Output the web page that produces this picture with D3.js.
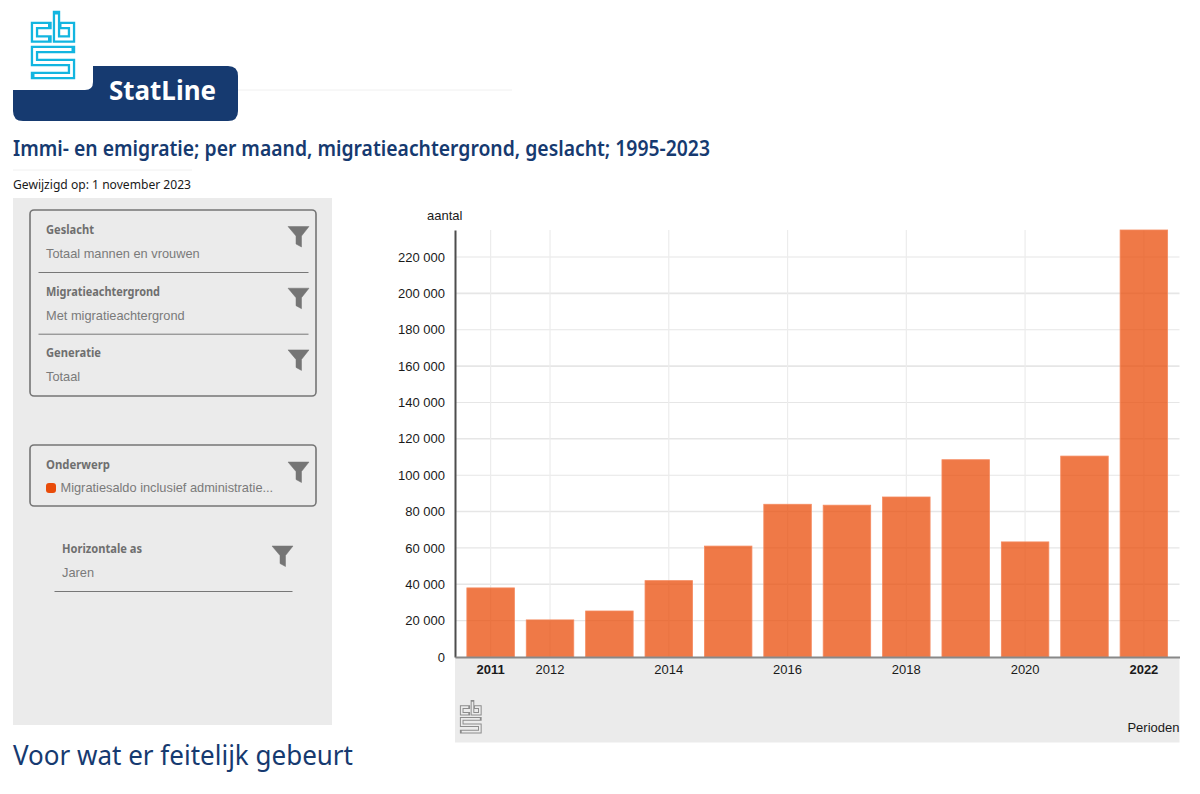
<!DOCTYPE html>
<html>
<head>
<meta charset="utf-8">
<title>StatLine</title>
<script src="https://cdn.jsdelivr.net/npm/d3@7"></script>
<style>
  html, body { margin: 0; padding: 0; background: #fff; }
  svg { display: block; }
  .akko { font-family: "Noto Sans", sans-serif; }
  .arial { font-family: "Liberation Sans", Arial, sans-serif; }
</style>
</head>
<body>
<div id="chart"></div>
<script>
// Chart values
const years = ['2011', '2012', '2013', '2014', '2015', '2016', '2017', '2018', '2019', '2020', '2021', '2022'];
const saldo = [38000, 20400, 25300, 42000, 61000, 84000, 83500, 88000, 108500, 63300, 110500, 235000];
const yTicks = [0, 20000, 40000, 60000, 80000, 100000, 120000, 140000, 160000, 180000, 200000, 220000];
const xLabels = ['2011', '2012', '2014', '2016', '2018', '2020', '2022'];
const boldLabels = ['2011', '2022'];

const filterGroups = [
  { title: 'Geslacht', value: 'Totaal mannen en vrouwen' },
  { title: 'Migratieachtergrond', value: 'Met migratieachtergrond' },
  { title: 'Generatie', value: 'Totaal' },
];

const navy = '#163a70';
const grey = '#757575';
const panel = '#ebebeb';

const svg = d3.select('#chart').append('svg').attr('width', 1200).attr('height', 794);

// Function to draw the maze style cbs logo
function drawLogo(parent, x, y, scale, outer, inner, widths) {
  const logo = parent.append('g').attr('transform', `translate(${x},${y}) scale(${scale})`);
  const paths = [
    'M48,25.5H34.5V39H48',
    'M56.5,14.5V39H71.5V25.5H61.5',
    'M71.5,49.5H34.5V62.5H71.5V75.5H34.5',
  ];
  paths.forEach((d) => {
    logo.append('path').attr('d', d).attr('fill', 'none').attr('stroke', outer)
      .attr('stroke-width', widths[0]).attr('stroke-linecap', 'square');
    logo.append('path').attr('d', d).attr('fill', 'none').attr('stroke', inner)
      .attr('stroke-width', widths[1]).attr('stroke-linecap', 'butt');
  });
}

// Function to draw the funnel icon of a filter
function drawFunnel(parent, x, y) {
  parent.append('path')
    .attr('transform', `translate(${x},${y})`)
    .attr('d', 'M0,0H21L13.5,9.5V20.5L8,17.5V9.5Z')
    .attr('fill', grey)
    .attr('stroke', grey)
    .attr('stroke-width', 0.5);
}

function drawHeader() {
  svg.append('line').attr('x1', 238).attr('x2', 512).attr('y1', 90).attr('y2', 90).attr('stroke', '#f0f0f0');
  drawLogo(svg, 0, 0, 1, '#12b5e0', '#fff', [7.4, 2.8]);

  svg.append('path')
    .attr('d', 'M13,90H85Q93,90 93,82V66H228Q238,66 238,76V111Q238,121 228,121H23Q13,121 13,111Z')
    .attr('fill', navy);
  svg.append('text').attr('class', 'akko').attr('x', 109).attr('y', 100)
    .attr('font-size', 26).attr('font-weight', 700).attr('fill', '#fff')
    .attr('textLength', 107).attr('lengthAdjust', 'spacingAndGlyphs').text('StatLine');

  svg.append('text').attr('class', 'akko').attr('x', 13).attr('y', 155.5)
    .attr('font-size', 21).attr('font-weight', 600).attr('fill', navy)
    .attr('textLength', 697).attr('lengthAdjust', 'spacingAndGlyphs')
    .text('Immi- en emigratie; per maand, migratieachtergrond, geslacht; 1995-2023');

  svg.append('line').attr('x1', 13).attr('x2', 192).attr('y1', 170).attr('y2', 170).attr('stroke', '#f0f0f0');
  svg.append('text').attr('class', 'akko').attr('x', 13).attr('y', 189)
    .attr('font-size', 12).attr('fill', '#1a1a1a')
    .attr('textLength', 178).attr('lengthAdjust', 'spacingAndGlyphs')
    .text('Gewijzigd op: 1 november 2023');

  svg.append('text').attr('class', 'akko').attr('x', 13).attr('y', 765)
    .attr('font-size', 27).attr('fill', navy)
    .attr('textLength', 340).attr('lengthAdjust', 'spacingAndGlyphs')
    .text('Voor wat er feitelijk gebeurt');
}

function filterTitle(x, y, text, length) {
  svg.append('text').attr('class', 'akko').attr('x', x).attr('y', y)
    .attr('font-size', 12).attr('font-weight', 700).attr('fill', '#6f6f6f')
    .attr('textLength', length).attr('lengthAdjust', 'spacingAndGlyphs').text(text);
}

function filterValue(x, y, text) {
  svg.append('text').attr('class', 'arial').attr('x', x).attr('y', y)
    .attr('font-size', 12.8).attr('fill', '#7a7a7a').text(text);
}

function drawSidebar() {
  svg.append('rect').attr('x', 13).attr('y', 198).attr('width', 319).attr('height', 527).attr('fill', panel);

  // Top box with the three filters
  svg.append('rect').attr('x', 30).attr('y', 210).attr('width', 286).attr('height', 186).attr('rx', 4)
    .attr('fill', 'none').attr('stroke', grey).attr('stroke-width', 1.6);

  const titleLengths = [48, 114, 55];
  filterGroups.forEach((group, i) => {
    const top = 234 + i * 61.7;
    filterTitle(46, top, group.title, titleLengths[i]);
    filterValue(46, top + 24, group.value);
    drawFunnel(svg, 288, top - 7.5);
    if (i < 2) {
      svg.append('line').attr('x1', 38.5).attr('x2', 308.5).attr('y1', top + 38.5).attr('y2', top + 38.5)
        .attr('stroke', '#777');
    }
  });

  // Onderwerp box
  svg.append('rect').attr('x', 30).attr('y', 445).attr('width', 286).attr('height', 61).attr('rx', 4)
    .attr('fill', 'none').attr('stroke', grey).attr('stroke-width', 1.6);
  filterTitle(46, 469, 'Onderwerp', 64);
  svg.append('rect').attr('x', 46).attr('y', 483).attr('width', 10).attr('height', 10).attr('rx', 3).attr('fill', '#e94c0a');
  filterValue(60.5, 492, 'Migratiesaldo inclusief administratie...');
  drawFunnel(svg, 288, 462);

  // Horizontale as
  filterTitle(62, 553, 'Horizontale as', 80);
  filterValue(62, 577, 'Jaren');
  drawFunnel(svg, 272, 546);
  svg.append('line').attr('x1', 54.5).attr('x2', 292.5).attr('y1', 591.5).attr('y2', 591.5).attr('stroke', '#777');
}

function drawChart() {
  const left = 455, right = 1179.5, top = 230, bottom = 657;

  const x = d3.scaleBand().domain(years).range([left, right]).padding(0.2);
  const y = d3.scaleLinear().domain([0, 234850]).range([bottom, top]);

  // Grey strip below the plot
  svg.append('rect').attr('x', left).attr('y', bottom).attr('width', right - left).attr('height', 85.5).attr('fill', panel);

  // Gridlines go behind the bars, they shine through
  svg.append('g').selectAll('line').data(yTicks.slice(1)).join('line')
    .attr('x1', left).attr('x2', right)
    .attr('y1', (d) => y(d)).attr('y2', (d) => y(d))
    .attr('stroke', '#e6e6e6').attr('stroke-width', (d, i) => (i % 2 === 1 ? 1.6 : 1.1));

  svg.append('g').selectAll('line').data(xLabels).join('line')
    .attr('x1', (d) => x(d) + x.bandwidth() / 2).attr('x2', (d) => x(d) + x.bandwidth() / 2)
    .attr('y1', top).attr('y2', bottom)
    .attr('stroke', '#ececec').attr('stroke-width', 1.2);

  const bars = years.map((year, i) => ({ year, value: saldo[i] }));
  svg.append('g').selectAll('rect').data(bars).join('rect')
    .attr('x', (d) => x(d.year))
    .attr('y', (d) => y(Math.min(d.value, y.domain()[1])))
    .attr('width', x.bandwidth())
    .attr('height', (d) => bottom - y(Math.min(d.value, y.domain()[1])))
    .attr('fill', '#e94c0a')
    .attr('fill-opacity', 0.75)
    .attr('stroke', '#f58a5f')
    .attr('stroke-width', 0.8);

  // Axes, d3 draws the labels and we restyle them
  const yAxis = d3.axisLeft(y).tickValues(yTicks).tickSize(0).tickPadding(10)
    .tickFormat((d) => d3.format(',')(d).replace(/,/g, ' '));
  const yGroup = svg.append('g').attr('class', 'arial').attr('transform', `translate(${left},0)`).call(yAxis);
  yGroup.select('.domain').attr('stroke', '#4d4d4d').attr('stroke-width', 2);
  yGroup.selectAll('text').attr('font-size', 13).attr('font-family', 'Liberation Sans').attr('fill', '#1a1a1a');

  const xAxis = d3.axisBottom(x).tickValues(xLabels).tickSize(0).tickPadding(7.5);
  const xGroup = svg.append('g').attr('class', 'arial').attr('transform', `translate(0,${bottom})`).call(xAxis);
  xGroup.select('.domain').attr('stroke', '#888').attr('stroke-width', 2);
  xGroup.selectAll('text')
    .attr('font-size', 13).attr('font-family', 'Liberation Sans').attr('fill', '#1a1a1a')
    .attr('font-weight', (d) => (boldLabels.includes(d) ? 700 : 400));

  svg.append('text').attr('class', 'arial').attr('x', 427).attr('y', 220)
    .attr('font-size', 13).attr('fill', '#1a1a1a').text('aantal');
  svg.append('text').attr('class', 'arial').attr('x', right).attr('y', 732)
    .attr('text-anchor', 'end').attr('font-size', 13).attr('fill', '#1a1a1a').text('Perioden');

  drawLogo(svg, 444.8, 694.6, 0.49, '#8c8c8c', panel, [7.4, 3.4]);
}

drawHeader();
drawSidebar();
drawChart();
</script>
</body>
</html>
